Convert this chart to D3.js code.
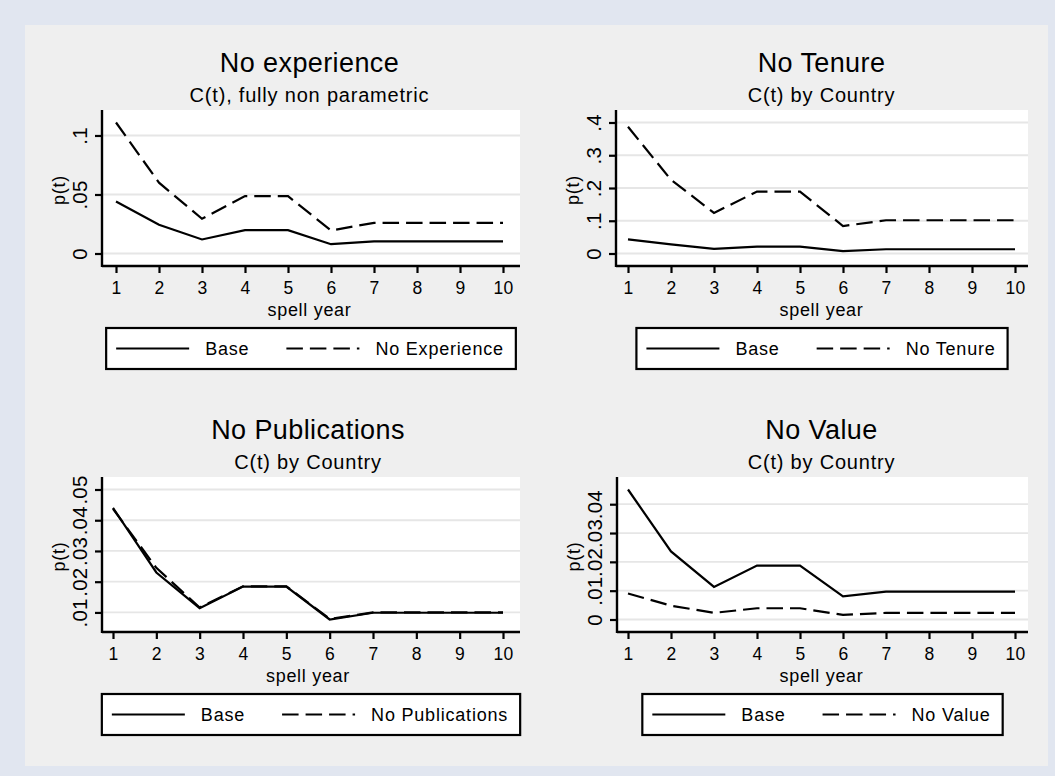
<!DOCTYPE html>
<html>
<head>
<meta charset="utf-8">
<title>p(t) by spell year</title>
<script src="https://cdn.jsdelivr.net/npm/d3@7"></script>
<style>
  body { margin: 0; background: #e1e6f0; }
  svg { display: block; font-family: "Liberation Sans", Arial, sans-serif; }
  .grid line { stroke: #e6e6e6; stroke-width: 1.8px; }
  .axis line { stroke: #000; stroke-width: 2.2px; }
  .axis path { display: none; }
  .axis text { font-family: "Liberation Sans", Arial, sans-serif; font-size: 17.5px; fill: #000; letter-spacing: 0.4px; }
  .axis.yax text { font-size: 20.5px; letter-spacing: 0.2px; }
  .axisline { stroke: #000; stroke-width: 2.4px; }
  .series { fill: none; stroke: #000; stroke-width: 2.2px; }
  .title { font-size: 27px; letter-spacing: 0.4px; }
  .subtitle { font-size: 20px; letter-spacing: 0.8px; }
  .label { font-size: 18px; letter-spacing: 0.7px; }
  .legend text { font-size: 18px; letter-spacing: 0.8px; }
</style>
</head>
<body>
<svg width="1055" height="776"></svg>
<script>
var years = [1, 2, 3, 4, 5, 6, 7, 8, 9, 10];

var titles = ["No experience", "No Tenure", "No Publications", "No Value"];
var subtitles = ["C(t), fully non parametric", "C(t) by Country", "C(t) by Country", "C(t) by Country"];
var altNames = ["No Experience", "No Tenure", "No Publications", "No Value"];

// p(t)
var baseExp = [.044, .0243, .0119, .0198, .0198, .0079, .0102, .0102, .0102, .0102];
var noExp   = [.111, .060, .0294, .0486, .0486, .0195, .026, .026, .026, .026];
var baseTen = [.043, .028, .014, .021, .021, .007, .013, .013, .013, .013];
var noTen   = [.387, .225, .124, .189, .189, .084, .1015, .1015, .1015, .1015];
var basePub = [.044, .023, .0114, .0184, .0184, .0077, .0099, .0099, .0099, .0099];
var noPub   = [.0437, .0245, .0116, .0185, .0185, .0079, .0100, .0100, .0100, .0100];
var baseVal = [.0451, .0236, .0113, .0187, .0187, .008, .0097, .0097, .0097, .0097];
var noVal   = [.009, .0048, .0023, .0039, .0039, .0016, .0023, .0023, .0023, .0023];

var yTicksExp = [0, .05, .1];
var yTicksTen = [0, .1, .2, .3, .4];
var yTicksPub = [.01, .02, .03, .04, .05];
var yTicksVal = [0, .01, .02, .03, .04];

var dash = "16.5,7";

var svg = d3.select("svg");

svg.append("rect").attr("width", 1055).attr("height", 776).attr("fill", "#e1e6f0");
svg.append("rect").attr("x", 25).attr("y", 25).attr("width", 1023).attr("height", 741).attr("fill", "#efefef");

// plot frames: left/right of plot region, top, x-axis y, x range of years
var frames = [
  { left: 102, right: 520, top: 110, axis: 266, x0: 116, x1: 503 },
  { left: 616, right: 1028, top: 110, axis: 266, x0: 628, x1: 1015 },
  { left: 102, right: 520, top: 477, axis: 632, x0: 113, x1: 503 },
  { left: 617, right: 1028, top: 477, axis: 632, x0: 628, x1: 1015 }
];

var panels = [
  { base: baseExp, alt: noExp, ticks: yTicksExp },
  { base: baseTen, alt: noTen, ticks: yTicksTen },
  { base: basePub, alt: noPub, ticks: yTicksPub },
  { base: baseVal, alt: noVal, ticks: yTicksVal }
];

function fmt(d) {
  return d === 0 ? "0" : String(d).replace(/^0/, "");
}

panels.forEach(function(p, k) {
  var f = frames[k];
  var g = svg.append("g");

  var x = d3.scaleLinear().domain([1, 10]).range([f.x0, f.x1]);
  var y = d3.scaleLinear()
    .domain(d3.extent(p.base.concat(p.alt, p.ticks)))
    .range([f.axis - 12.5, f.top + 12.5]);

  g.append("rect")
    .attr("x", f.left).attr("y", f.top)
    .attr("width", f.right - f.left).attr("height", f.axis - f.top)
    .attr("fill", "#fff");

  g.append("g").attr("class", "grid")
    .selectAll("line").data(p.ticks).enter().append("line")
    .attr("x1", f.left).attr("x2", f.right)
    .attr("y1", function(d) { return y(d); })
    .attr("y2", function(d) { return y(d); });

  var line = d3.line()
    .x(function(d, i) { return x(years[i]); })
    .y(function(d) { return y(d); });

  g.append("path").attr("class", "series").attr("d", line(p.base));
  g.append("path").attr("class", "series")
    .attr("stroke-dasharray", dash)
    .attr("d", line(p.alt));

  // axes
  g.append("g").attr("class", "axis")
    .attr("transform", "translate(0," + f.axis + ")")
    .call(d3.axisBottom(x).tickValues(years).tickSize(7).tickPadding(9).tickFormat(d3.format("d")));

  var ya = g.append("g").attr("class", "axis yax")
    .attr("transform", "translate(" + f.left + ",0)")
    .call(d3.axisLeft(y).tickValues(p.ticks).tickSize(7).tickFormat(fmt));
  ya.selectAll("text")
    .attr("transform", "rotate(-90)")
    .attr("x", 0).attr("y", -15).attr("dy", 0)
    .attr("text-anchor", "middle");

  g.append("line").attr("class", "axisline")
    .attr("x1", f.left).attr("x2", f.right)
    .attr("y1", f.axis).attr("y2", f.axis);
  g.append("line").attr("class", "axisline")
    .attr("x1", f.left).attr("x2", f.left)
    .attr("y1", f.top).attr("y2", f.axis + 1);

  var cx = (f.x0 + f.x1) / 2;

  g.append("text").attr("class", "title")
    .attr("x", cx).attr("y", f.top - 38)
    .attr("text-anchor", "middle").text(titles[k]);
  g.append("text").attr("class", "subtitle")
    .attr("x", cx).attr("y", f.top - 8)
    .attr("text-anchor", "middle").text(subtitles[k]);

  g.append("text").attr("class", "label")
    .attr("x", cx).attr("y", f.axis + 50)
    .attr("text-anchor", "middle").text("spell year");

  g.append("text").attr("class", "label")
    .attr("transform", "translate(" + (f.left - 37) + "," + ((f.top + f.axis) / 2 + 2) + ") rotate(-90)")
    .attr("text-anchor", "middle").text("p(t)");

  // legend
  var lg = g.append("g").attr("class", "legend");
  var ly = f.axis + 62, lh = 41, mid = ly + lh / 2;
  var box = lg.append("rect")
    .attr("y", ly).attr("height", lh)
    .attr("fill", "#fff").attr("stroke", "#000").attr("stroke-width", 2.2);
  var key = 73, pad = 10, gap = 16, colGap = 37;
  var cur = 0;
  var items = lg.append("g");
  [["Base", null], [altNames[k], dash]].forEach(function(it, j) {
    if (j > 0) cur += colGap;
    items.append("line")
      .attr("x1", cur).attr("x2", cur + key)
      .attr("y1", mid).attr("y2", mid)
      .attr("stroke", "#000").attr("stroke-width", 2.2)
      .attr("stroke-dasharray", it[1]);
    cur += key + gap;
    var t = items.append("text").attr("x", cur).attr("y", mid + 6.5).text(it[0]);
    cur += t.node().getComputedTextLength();
  });
  var w = cur + pad * 2 + 2;
  var bx = (f.left + f.right) / 2 - w / 2;
  box.attr("x", bx).attr("width", w);
  items.attr("transform", "translate(" + (bx + pad) + ",0)");
});
</script>
</body>
</html>
